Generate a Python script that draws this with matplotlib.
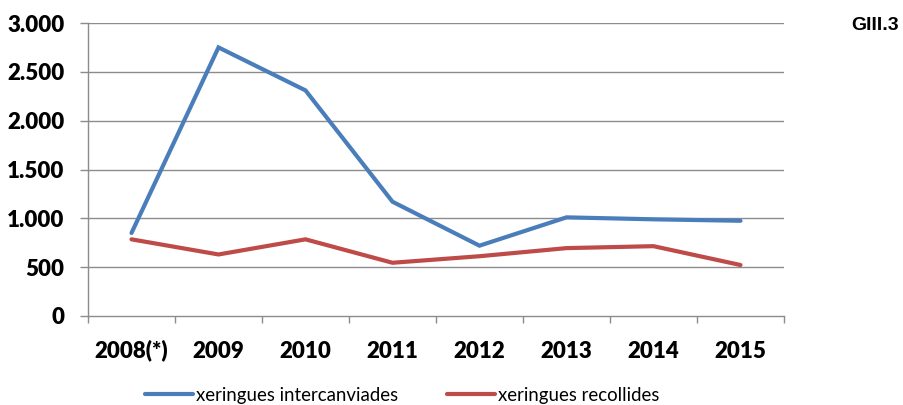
import matplotlib
matplotlib.use("Agg")
import matplotlib.pyplot as plt
import numpy as np

years = ["2008(*)", "2009", "2010", "2011", "2012", "2013", "2014", "2015"]
intercanviades = [850, 2750, 2310, 1170, 720, 1010, 990, 975]
recollides = [785, 630, 785, 545, 612, 695, 715, 522]
yticks = [0, 500, 1000, 1500, 2000, 2500, 3000]
ylabels = ["0", "500", "1.000", "1.500", "2.000", "2.500", "3.000"]

blue = "#4A7EBB"
red = "#BE4B48"
grid_c = "#8C8C8C"

fig = plt.figure(figsize=(9.04, 4.05), dpi=100)
ax = fig.add_axes([88/904, 1 - 316/405, (784 - 88)/904, (316 - 23)/405])

x = np.arange(len(years))
l1, = ax.plot(x, intercanviades, color=blue, lw=3.0, solid_capstyle="round",
              solid_joinstyle="miter")
l2, = ax.plot(x, recollides, color=red, lw=3.0, solid_capstyle="round",
              solid_joinstyle="miter")

tick_font = dict(fontfamily="Lato", fontweight="heavy", fontsize=16)

ax.set_xlim(-0.5, len(years) - 0.5)
ax.set_ylim(0, 3000)
ax.set_yticks(yticks)
ax.set_yticklabels(ylabels, **tick_font)
for y in yticks[1:]:
    ax.axhline(y, color=grid_c, lw=1.0, zorder=0)

ax.set_xticks(np.arange(-0.5, len(years)), minor=False)
ax.set_xticklabels([])
ax.set_xticks(x, minor=True)
ax.set_xticklabels(years, minor=True, va="baseline", **tick_font)
ax.tick_params(axis="x", which="major", length=5, color=grid_c, width=1)
ax.tick_params(axis="x", which="minor", length=0, pad=30)
ax.tick_params(axis="y", length=6, color=grid_c, width=1, pad=11)

for s in ["top", "right"]:
    ax.spines[s].set_visible(False)
for s in ["left", "bottom"]:
    ax.spines[s].set_color(grid_c)
    ax.spines[s].set_linewidth(1.0)

fig.text(851/904, 1 - 26/405, "GIII.3", fontfamily="Liberation Sans",
         fontweight="bold", fontsize=14, va="center", ha="left")

fig.legend([l1, l2], ["xeringues intercanviades", "xeringues recollides"],
           loc="center", bbox_to_anchor=(402/904, 1 - 395/405), ncol=2,
           frameon=False, prop={"family": "Lato", "size": 13.4},
           handlelength=2.6, handletextpad=0.15, columnspacing=2.6,
           borderpad=0.1)

fig.savefig("out.png", dpi=100)
